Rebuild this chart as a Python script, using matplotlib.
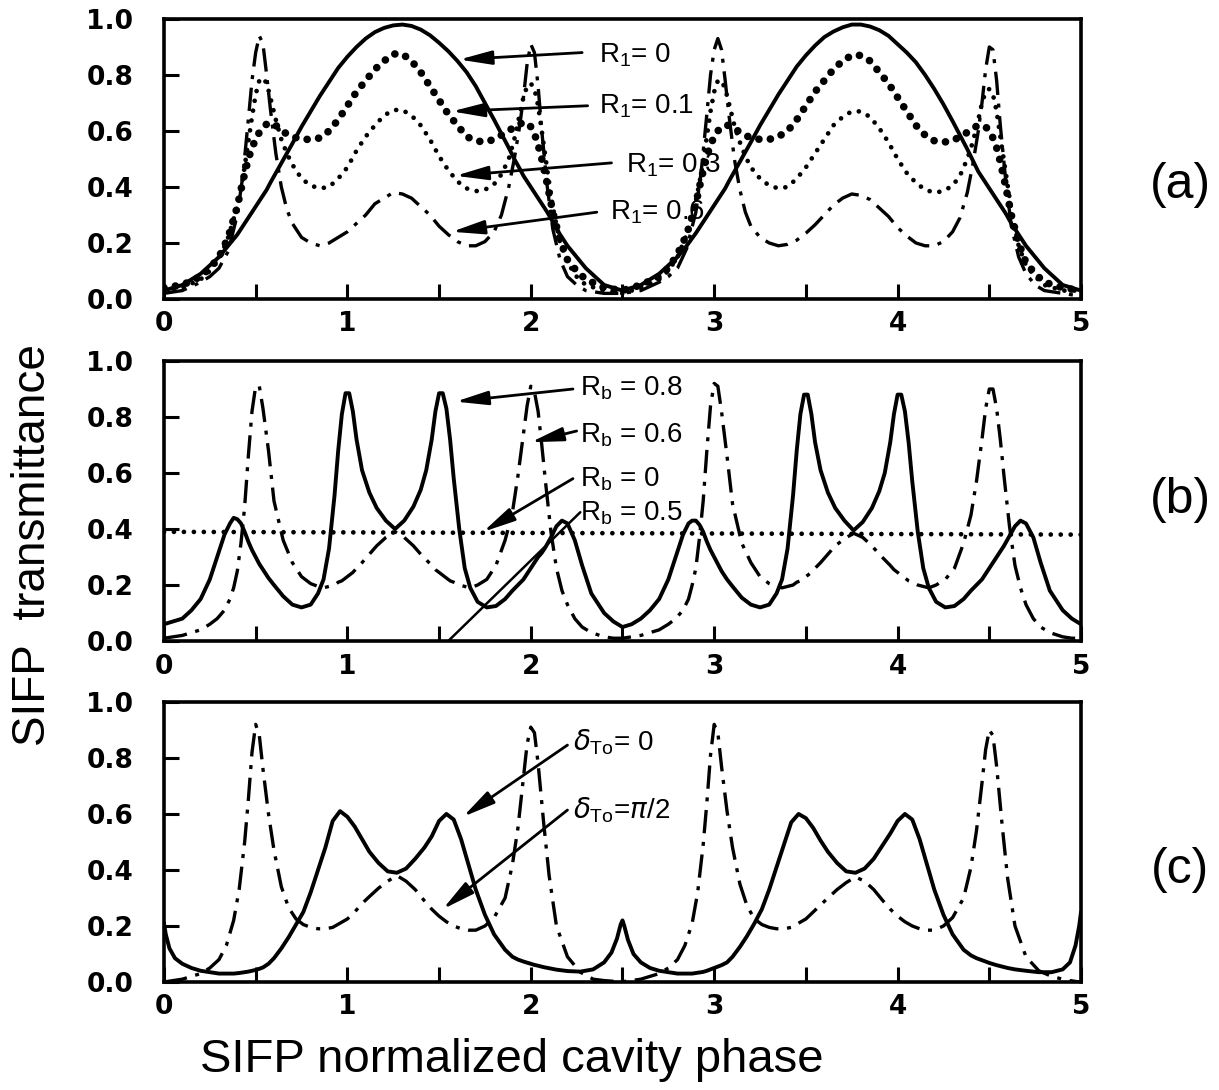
import matplotlib
matplotlib.use("Agg")
import matplotlib.pyplot as plt

plt.rcParams["font.family"] = ["DejaVu Sans"]
LABEL_FONT = ["Liberation Sans", "DejaVu Sans"]

# phase samples for one period (0 .. 2.5); the second period uses the same points + 2.5
PHASE_A = [0, 0.1, 0.2, 0.25, 0.3, 0.35, 0.4, 0.43, 0.46, 0.48,
           0.5, 0.52, 0.54, 0.56, 0.58, 0.61, 0.64, 0.67, 0.7, 0.75,
           0.8, 0.85, 0.9, 0.95, 1.0, 1.05, 1.1, 1.15, 1.2, 1.25,
           1.3, 1.35, 1.4, 1.45, 1.5, 1.55, 1.6, 1.65, 1.7, 1.75,
           1.8, 1.84, 1.88, 1.91, 1.94, 1.96, 1.98, 2.0, 2.02, 2.04,
           2.06, 2.09, 2.12, 2.16, 2.2, 2.25, 2.3, 2.4]
PHASE_B = [0, 0.05, 0.1, 0.15, 0.2, 0.25, 0.29, 0.33, 0.36, 0.38,
           0.4, 0.42, 0.44, 0.46, 0.48, 0.5, 0.52, 0.54, 0.57, 0.6,
           0.65, 0.7, 0.75, 0.8, 0.84, 0.87, 0.9, 0.93, 0.95, 0.97,
           0.99, 1.01, 1.03, 1.05, 1.08, 1.12, 1.16, 1.21, 1.26, 1.31,
           1.36, 1.4, 1.43, 1.46, 1.48, 1.5, 1.52, 1.54, 1.56, 1.58,
           1.61, 1.64, 1.67, 1.71, 1.76, 1.81, 1.86, 1.9, 1.93, 1.96,
           1.98, 2.0, 2.02, 2.04, 2.06, 2.08, 2.11, 2.14, 2.17, 2.2,
           2.24, 2.28, 2.33, 2.4, 2.45]
PHASE_C = [0, 0.01, 0.03, 0.06, 0.1, 0.15, 0.2, 0.25, 0.3, 0.34,
           0.38, 0.41, 0.44, 0.46, 0.48, 0.5, 0.52, 0.54, 0.57, 0.6,
           0.64, 0.68, 0.72, 0.76, 0.8, 0.84, 0.88, 0.92, 0.96, 1.0,
           1.04, 1.08, 1.12, 1.17, 1.22, 1.27, 1.32, 1.37, 1.42, 1.46,
           1.5, 1.54, 1.58, 1.62, 1.66, 1.7, 1.75, 1.8, 1.86, 1.9,
           1.93, 1.96, 1.98, 2.0, 2.02, 2.04, 2.07, 2.1, 2.14, 2.2,
           2.27, 2.34, 2.4, 2.44, 2.47, 2.49]

# (a) transmittance: period 1, period 2, then the value at phase 5
A_R1_0 = [0.03, 0.05, 0.09, 0.12, 0.15, 0.19, 0.23, 0.26, 0.29, 0.31,
          0.33, 0.35, 0.37, 0.39, 0.415, 0.45, 0.485, 0.52, 0.555, 0.615,
          0.67, 0.725, 0.775, 0.825, 0.865, 0.90, 0.93, 0.953, 0.968, 0.977,
          0.98, 0.975, 0.962, 0.942, 0.915, 0.885, 0.85, 0.81, 0.76, 0.70,
          0.64, 0.59, 0.54, 0.50, 0.465, 0.44, 0.42, 0.40, 0.38, 0.36,
          0.34, 0.31, 0.275, 0.23, 0.19, 0.15, 0.11, 0.05,
          0.03, 0.05, 0.09, 0.12, 0.15, 0.19, 0.235, 0.265, 0.295, 0.315,
          0.335, 0.355, 0.375, 0.395, 0.42, 0.455, 0.49, 0.525, 0.56, 0.62,
          0.675, 0.73, 0.78, 0.83, 0.87, 0.905, 0.935, 0.955, 0.97, 0.98,
          0.98, 0.973, 0.96, 0.94, 0.91, 0.88, 0.845, 0.80, 0.75, 0.695,
          0.635, 0.585, 0.535, 0.495, 0.455, 0.435, 0.415, 0.395, 0.375, 0.355,
          0.335, 0.305, 0.27, 0.23, 0.19, 0.15, 0.11, 0.05,
          0.03]
A_R1_01 = [0.04, 0.05, 0.08, 0.11, 0.15, 0.22, 0.33, 0.42, 0.50, 0.54,
           0.57, 0.595, 0.61, 0.625, 0.63, 0.62, 0.60, 0.59, 0.58, 0.57,
           0.57, 0.575, 0.60, 0.64, 0.69, 0.74, 0.78, 0.82, 0.85, 0.875,
           0.875, 0.85, 0.81, 0.76, 0.71, 0.66, 0.62, 0.58, 0.565, 0.56,
           0.57, 0.585, 0.60, 0.615, 0.625, 0.63, 0.63, 0.615, 0.59, 0.55,
           0.50, 0.41, 0.31, 0.21, 0.14, 0.10, 0.07, 0.04,
           0.03, 0.05, 0.08, 0.11, 0.16, 0.23, 0.34, 0.43, 0.51, 0.55,
           0.58, 0.60, 0.615, 0.62, 0.62, 0.61, 0.595, 0.585, 0.575, 0.57,
           0.57, 0.58, 0.60, 0.64, 0.69, 0.74, 0.78, 0.82, 0.85, 0.87,
           0.87, 0.85, 0.81, 0.77, 0.72, 0.67, 0.62, 0.585, 0.565, 0.56,
           0.565, 0.58, 0.595, 0.61, 0.62, 0.62, 0.615, 0.60, 0.575, 0.54,
           0.49, 0.40, 0.30, 0.20, 0.13, 0.09, 0.06, 0.04,
           0.03]
A_R1_03 = [0.03, 0.04, 0.07, 0.10, 0.14, 0.22, 0.33, 0.43, 0.56, 0.65,
           0.73, 0.78, 0.79, 0.77, 0.72, 0.64, 0.57, 0.52, 0.48, 0.43,
           0.405, 0.395, 0.40, 0.43, 0.47, 0.53, 0.58, 0.62, 0.655, 0.675,
           0.675, 0.655, 0.62, 0.57, 0.51, 0.46, 0.42, 0.395, 0.385, 0.39,
           0.41, 0.445, 0.50, 0.57, 0.66, 0.72, 0.76, 0.77, 0.75, 0.69,
           0.60, 0.46, 0.33, 0.20, 0.13, 0.08, 0.05, 0.03,
           0.02, 0.04, 0.07, 0.10, 0.15, 0.23, 0.35, 0.45, 0.58, 0.67,
           0.74, 0.78, 0.78, 0.75, 0.70, 0.62, 0.56, 0.51, 0.47, 0.43,
           0.405, 0.395, 0.40, 0.43, 0.47, 0.52, 0.57, 0.62, 0.65, 0.67,
           0.67, 0.65, 0.61, 0.56, 0.50, 0.45, 0.415, 0.39, 0.38, 0.385,
           0.405, 0.44, 0.50, 0.56, 0.64, 0.70, 0.74, 0.75, 0.73, 0.67,
           0.58, 0.45, 0.32, 0.19, 0.12, 0.08, 0.05, 0.03,
           0.03]
A_R1_06 = [0.02, 0.03, 0.06, 0.08, 0.11, 0.17, 0.30, 0.44, 0.64, 0.78,
           0.88, 0.94, 0.91, 0.80, 0.68, 0.52, 0.40, 0.32, 0.27, 0.22,
           0.20, 0.19, 0.20, 0.22, 0.24, 0.27, 0.30, 0.34, 0.36, 0.38,
           0.375, 0.36, 0.33, 0.30, 0.26, 0.23, 0.205, 0.19, 0.19, 0.205,
           0.24, 0.30, 0.40, 0.50, 0.62, 0.72, 0.84, 0.91, 0.88, 0.76,
           0.60, 0.40, 0.25, 0.14, 0.08, 0.05, 0.03, 0.02,
           0.02, 0.03, 0.06, 0.08, 0.11, 0.18, 0.31, 0.46, 0.66, 0.80,
           0.89, 0.93, 0.89, 0.78, 0.66, 0.50, 0.39, 0.31, 0.26, 0.22,
           0.20, 0.19, 0.195, 0.21, 0.235, 0.265, 0.30, 0.335, 0.36, 0.375,
           0.37, 0.355, 0.325, 0.295, 0.255, 0.225, 0.20, 0.19, 0.19, 0.205,
           0.24, 0.29, 0.38, 0.48, 0.60, 0.70, 0.82, 0.90, 0.89, 0.78,
           0.62, 0.42, 0.26, 0.15, 0.09, 0.05, 0.03, 0.02,
           0.01]

# (b)
B_RB_08 = [0.06, 0.07, 0.08, 0.11, 0.15, 0.22, 0.30, 0.38, 0.42, 0.44,
           0.435, 0.42, 0.39, 0.355, 0.325, 0.30, 0.275, 0.255, 0.225, 0.20,
           0.16, 0.13, 0.12, 0.13, 0.17, 0.22, 0.33, 0.52, 0.68, 0.81,
           0.885, 0.885, 0.82, 0.72, 0.61, 0.53, 0.475, 0.43, 0.40, 0.43,
           0.48, 0.54, 0.61, 0.72, 0.82, 0.885, 0.885, 0.83, 0.72, 0.58,
           0.40, 0.26, 0.19, 0.14, 0.12, 0.125, 0.15, 0.18, 0.20, 0.22,
           0.24, 0.26, 0.28, 0.30, 0.315, 0.335, 0.37, 0.41, 0.43, 0.42,
           0.36, 0.27, 0.17, 0.10, 0.07,
           0.05, 0.06, 0.08, 0.11, 0.15, 0.22, 0.30, 0.38, 0.42, 0.43,
           0.43, 0.415, 0.39, 0.355, 0.325, 0.30, 0.275, 0.25, 0.22, 0.195,
           0.155, 0.13, 0.12, 0.13, 0.17, 0.22, 0.33, 0.52, 0.68, 0.81,
           0.88, 0.88, 0.81, 0.71, 0.61, 0.53, 0.475, 0.43, 0.395, 0.425,
           0.475, 0.535, 0.60, 0.71, 0.81, 0.88, 0.88, 0.82, 0.71, 0.57,
           0.39, 0.26, 0.19, 0.14, 0.12, 0.125, 0.15, 0.18, 0.20, 0.22,
           0.24, 0.26, 0.28, 0.30, 0.32, 0.34, 0.375, 0.41, 0.43, 0.42,
           0.37, 0.28, 0.18, 0.11, 0.08,
           0.06]
B_RB_06 = [0.01, 0.015, 0.02, 0.03, 0.04, 0.06, 0.08, 0.11, 0.15, 0.19,
           0.25, 0.35, 0.48, 0.66, 0.82, 0.91, 0.91, 0.83, 0.68, 0.50,
           0.36, 0.28, 0.23, 0.205, 0.195, 0.19, 0.195, 0.20, 0.21, 0.215,
           0.225, 0.235, 0.245, 0.26, 0.28, 0.31, 0.34, 0.37, 0.39, 0.37,
           0.34, 0.31, 0.29, 0.27, 0.255, 0.245, 0.235, 0.225, 0.215, 0.21,
           0.20, 0.195, 0.19, 0.20, 0.22, 0.27, 0.36, 0.46, 0.59, 0.74,
           0.84, 0.91, 0.89, 0.82, 0.70, 0.57, 0.39, 0.26, 0.18, 0.13,
           0.08, 0.05, 0.03, 0.015, 0.01,
           0.01, 0.015, 0.02, 0.03, 0.04, 0.06, 0.08, 0.11, 0.15, 0.20,
           0.26, 0.37, 0.50, 0.68, 0.84, 0.92, 0.91, 0.82, 0.66, 0.49,
           0.35, 0.28, 0.23, 0.205, 0.195, 0.19, 0.195, 0.20, 0.21, 0.215,
           0.225, 0.235, 0.245, 0.26, 0.28, 0.31, 0.34, 0.365, 0.385, 0.37,
           0.34, 0.31, 0.29, 0.27, 0.255, 0.245, 0.235, 0.225, 0.215, 0.21,
           0.20, 0.195, 0.19, 0.20, 0.22, 0.26, 0.35, 0.45, 0.57, 0.72,
           0.83, 0.90, 0.90, 0.83, 0.72, 0.59, 0.41, 0.27, 0.19, 0.13,
           0.08, 0.05, 0.03, 0.015, 0.01,
           0.01]
B_RB_0_X = [0, 5]
B_RB_0 = [0.39, 0.38]

# (c)
C_D_0 = [0.21, 0.17, 0.12, 0.085, 0.065, 0.05, 0.04, 0.035, 0.03, 0.03,
         0.03, 0.032, 0.035, 0.037, 0.04, 0.043, 0.047, 0.052, 0.065, 0.085,
         0.12, 0.16, 0.205, 0.25, 0.32, 0.40, 0.48, 0.575, 0.61, 0.59,
         0.555, 0.51, 0.465, 0.425, 0.395, 0.39, 0.405, 0.44, 0.48, 0.52,
         0.575, 0.60, 0.58, 0.51, 0.42, 0.33, 0.24, 0.17, 0.115, 0.09,
         0.08, 0.073, 0.069, 0.065, 0.061, 0.058, 0.053, 0.049, 0.044, 0.039,
         0.037, 0.045, 0.07, 0.105, 0.155, 0.205,
         0.22, 0.20, 0.15, 0.10, 0.07, 0.05, 0.04, 0.035, 0.03, 0.03,
         0.03, 0.033, 0.036, 0.04, 0.045, 0.05, 0.055, 0.06, 0.07, 0.09,
         0.125, 0.165, 0.21, 0.26, 0.33, 0.41, 0.49, 0.57, 0.60, 0.585,
         0.55, 0.505, 0.465, 0.425, 0.395, 0.39, 0.405, 0.44, 0.49, 0.53,
         0.575, 0.60, 0.58, 0.51, 0.42, 0.33, 0.24, 0.17, 0.115, 0.095,
         0.085, 0.078, 0.073, 0.068, 0.064, 0.06, 0.055, 0.05, 0.045, 0.04,
         0.035, 0.035, 0.045, 0.07, 0.13, 0.20,
         0.25]
C_D_PI2 = [0.0, 0.001, 0.003, 0.006, 0.01, 0.02, 0.03, 0.05, 0.08, 0.13,
           0.22, 0.33, 0.50, 0.65, 0.82, 0.92, 0.88, 0.76, 0.60, 0.47,
           0.34, 0.265, 0.225, 0.205, 0.195, 0.19, 0.19, 0.195, 0.21, 0.225,
           0.25, 0.28, 0.305, 0.335, 0.36, 0.38, 0.36, 0.33, 0.29, 0.26,
           0.235, 0.215, 0.20, 0.19, 0.185, 0.185, 0.20, 0.23, 0.30, 0.42,
           0.55, 0.73, 0.85, 0.91, 0.89, 0.78, 0.57, 0.38, 0.20, 0.09,
           0.035, 0.01, 0.005, 0.003, 0.002, 0.002,
           0.002, 0.002, 0.003, 0.006, 0.01, 0.02, 0.03, 0.05, 0.08, 0.13,
           0.21, 0.32, 0.49, 0.64, 0.81, 0.92, 0.89, 0.77, 0.61, 0.48,
           0.35, 0.27, 0.225, 0.205, 0.195, 0.19, 0.19, 0.195, 0.21, 0.225,
           0.25, 0.275, 0.30, 0.33, 0.355, 0.375, 0.36, 0.33, 0.29, 0.26,
           0.235, 0.215, 0.20, 0.19, 0.185, 0.185, 0.20, 0.23, 0.30, 0.41,
           0.54, 0.71, 0.83, 0.90, 0.88, 0.77, 0.56, 0.37, 0.20, 0.09,
           0.04, 0.02, 0.01, 0.005, 0.002, 0.0,
           0.0]

Y_TICKS = [0.0, 0.2, 0.4, 0.6, 0.8, 1.0]
Y_TICK_LABELS = ["0.0", "0.2", "0.4", "0.6", "0.8", "1.0"]
X_TICKS = [0, 1, 2, 3, 4, 5]
X_TICK_LABELS = ["0", "1", "2", "3", "4", "5"]


def full_x(phase):
    return phase + [p + 2.5 for p in phase] + [5.0]


SOLID = dict(color="black", lw=2.8, solid_joinstyle="round", solid_capstyle="round")
DASHDOT = dict(color="black", lw=2.4, linestyle=(0, (7, 2.6, 1.2, 2.6)))
DOTS = dict(color="black", lw=3.4, linestyle=(0, (0.01, 2.1)), dash_capstyle="round")
DIAMONDS = dict(color="black", lw=5.5, linestyle=(0, (0.01, 1.5)), dash_capstyle="round")
ARROW = dict(arrowstyle="-|>,head_length=1.4,head_width=0.3", color="black", lw=2,
             mutation_scale=14, shrinkA=0, shrinkB=0)
LEADER = dict(arrowstyle="-", color="black", lw=1.8, shrinkA=0, shrinkB=0)


def style(ax):
    ax.set_xlim(0, 5)
    ax.set_ylim(0, 1)
    ax.set_xticks(X_TICKS)
    ax.set_xticklabels(X_TICK_LABELS, fontweight="bold")
    ax.set_xticks([0.5, 1.5, 2.5, 3.5, 4.5], minor=True)
    ax.set_yticks(Y_TICKS)
    ax.set_yticklabels(Y_TICK_LABELS, fontweight="bold")
    ax.tick_params(which="both", direction="in", length=11, width=2.2)
    ax.tick_params(axis="x", labelsize=19, pad=9)
    ax.tick_params(axis="y", labelsize=19, pad=22)
    for s in ax.spines.values():
        s.set_linewidth(2.6)


def label(ax, text, tip, start, pos, arrow=ARROW, size=20):
    ax.annotate("", xy=tip, xytext=start, arrowprops=arrow)
    ax.text(pos[0], pos[1], text, fontsize=size, family=LABEL_FONT,
            ha="left", va="center")


fig = plt.figure(figsize=(12.19, 10.90), dpi=100)
ax_a = fig.add_axes([0.1345, 0.7257, 0.7523, 0.2569])
ax_b = fig.add_axes([0.1345, 0.4119, 0.7523, 0.2569])
ax_c = fig.add_axes([0.1345, 0.0991, 0.7523, 0.2569])

xa = full_x(PHASE_A)
ax_a.plot(xa, A_R1_0, **SOLID)
ax_a.plot(xa, A_R1_01, **DIAMONDS)
ax_a.plot(xa, A_R1_03, **DOTS)
ax_a.plot(xa, A_R1_06, **DASHDOT)
style(ax_a)
label(ax_a, "R$_\\mathregular{1}$= 0", (1.61, 0.855), (2.28, 0.88), (2.37, 0.87))
label(ax_a, "R$_\\mathregular{1}$= 0.1", (1.57, 0.67), (2.31, 0.69), (2.37, 0.69))
label(ax_a, "R$_\\mathregular{1}$= 0.3", (1.59, 0.44), (2.44, 0.486), (2.52, 0.478))
label(ax_a, "R$_\\mathregular{1}$= 0.6", (1.57, 0.24), (2.36, 0.31), (2.43, 0.31))

xb = full_x(PHASE_B)
ax_b.plot(xb, B_RB_08, **SOLID)
ax_b.plot(xb, B_RB_06, **DASHDOT)
ax_b.plot(B_RB_0_X, B_RB_0, **DOTS)
style(ax_b)
label(ax_b, "R$_\\mathregular{b}$ = 0.8", (1.59, 0.855), (2.23, 0.90), (2.27, 0.905))
label(ax_b, "R$_\\mathregular{b}$ = 0.6", (2.0, 0.71), (2.25, 0.75), (2.27, 0.735))
label(ax_b, "R$_\\mathregular{b}$ = 0", (1.74, 0.39), (2.23, 0.58), (2.27, 0.58))
label(ax_b, "R$_\\mathregular{b}$ = 0.5", (1.55, 0.0), (2.27, 0.46), (2.27, 0.457),
      arrow=LEADER)

xc = full_x(PHASE_C)
ax_c.plot(xc, C_D_0, **SOLID)
ax_c.plot(xc, C_D_PI2, **DASHDOT)
style(ax_c)
label(ax_c, "$\\delta_{\\mathregular{To}}$= 0", (1.63, 0.59), (2.20, 0.846), (2.23, 0.857))
label(ax_c, "$\\delta_{\\mathregular{To}}$=$\\pi$/2", (1.52, 0.26), (2.20, 0.614), (2.23, 0.614))

for tag, y in [("(a)", 0.830), ("(b)", 0.541), ("(c)", 0.202)]:
    fig.text(0.968, y, tag, fontsize=36, family=LABEL_FONT, ha="center", va="center")

fig.text(0.42, 0.0275, "SIFP normalized cavity phase", fontsize=34, family=LABEL_FONT,
         ha="center", va="center")
fig.text(0.027, 0.5, "SIFP  transmittance", fontsize=33, family=LABEL_FONT,
         rotation=90, ha="center", va="center")

fig.savefig("out.png", dpi=100)
